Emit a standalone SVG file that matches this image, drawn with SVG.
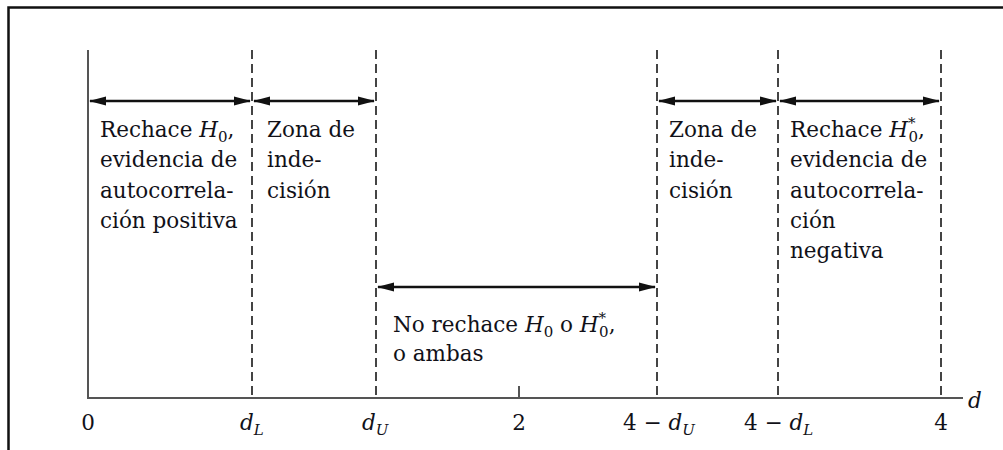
<svg xmlns="http://www.w3.org/2000/svg" width="1003" height="450" viewBox="0 0 1003 450">
<style>
.t{font-family:"DejaVu Serif","Liberation Serif",serif;font-size:21.5px;fill:#111118}
.ax{font-family:"DejaVu Serif","Liberation Serif",serif;font-size:21.5px;fill:#111118}
.it{font-style:italic}
.sub{font-size:15px}
.dash{stroke:#444;stroke-width:2;stroke-dasharray:9,5;fill:none}
.solid{stroke:#555;stroke-width:2;fill:none}
.arr{stroke:#111;stroke-width:2.5;marker-start:url(#ah);marker-end:url(#ah)}
</style>
<defs>
<marker id="ah" markerUnits="userSpaceOnUse" markerWidth="18" markerHeight="12" refX="16" refY="5" orient="auto-start-reverse" viewBox="0 0 18 10">
<path d="M0,0.5 L17,5 L0,9.5 z" fill="#111"/>
</marker>
</defs>
<rect x="0" y="0" width="1003" height="450" fill="#fff"/>
<rect x="8.5" y="7.5" width="1100" height="500" fill="none" stroke="#111" stroke-width="2.5"/>
<g id="axis">
<line class="solid" x1="88" y1="50" x2="88" y2="398"/>
<line class="solid" x1="87" y1="398" x2="963" y2="398"/>
<line class="solid" x1="519" y1="386" x2="519" y2="398"/>
<line class="dash" x1="252" y1="50" x2="252" y2="398"/>
<line class="dash" x1="376" y1="50" x2="376" y2="398"/>
<line class="dash" x1="657" y1="50" x2="657" y2="398"/>
<line class="dash" x1="778" y1="50" x2="778" y2="398"/>
<line class="dash" x1="941" y1="50" x2="941" y2="398"/>
</g>
<g id="tick-labels" class="ax">
<text x="88" y="430" text-anchor="middle">0</text>
<text x="240" y="430"><tspan class="it">d</tspan><tspan class="sub it" dy="5">L</tspan></text>
<text x="362" y="430"><tspan class="it">d</tspan><tspan class="sub it" dy="5">U</tspan></text>
<text x="519" y="430" text-anchor="middle">2</text>
<text x="623" y="430">4 − <tspan class="it">d</tspan><tspan class="sub it" dy="5">U</tspan></text>
<text x="744" y="430">4 − <tspan class="it">d</tspan><tspan class="sub it" dy="5">L</tspan></text>
<text x="941" y="430" text-anchor="middle">4</text>
<text x="968" y="408" class="it">d</text>
</g>
<g id="connectors">
<line class="arr" x1="90" y1="101" x2="250" y2="101"/>
<line class="arr" x1="254" y1="101" x2="374" y2="101"/>
<line class="arr" x1="659" y1="101" x2="776" y2="101"/>
<line class="arr" x1="780" y1="101" x2="939" y2="101"/>
<line class="arr" x1="378" y1="287" x2="655" y2="287"/>
</g>
<g id="zone-reject-h0" class="t">
<text x="100" y="137">Rechace <tspan class="it">H</tspan><tspan class="sub" dy="5">0</tspan><tspan dy="-5">,</tspan></text>
<text x="100" y="167">evidencia de</text>
<text x="100" y="198">autocorrela-</text>
<text x="100" y="228">ción positiva</text>
</g>
<g id="zone-indecision-left" class="t">
<text x="267" y="137">Zona de</text>
<text x="267" y="167">inde-</text>
<text x="267" y="198">cisión</text>
</g>
<g id="zone-no-reject" class="t">
<text x="393" y="332">No rechace <tspan class="it">H</tspan><tspan class="sub" dy="5">0</tspan><tspan dy="-5"> o </tspan><tspan class="it">H</tspan><tspan class="sub" dy="-9">*</tspan><tspan class="sub" dx="-7" dy="14">0</tspan><tspan dy="-5">,</tspan></text>
<text x="393" y="361">o ambas</text>
</g>
<g id="zone-indecision-right" class="t">
<text x="669" y="137">Zona de</text>
<text x="669" y="167">inde-</text>
<text x="669" y="198">cisión</text>
</g>
<g id="zone-reject-h0star" class="t">
<text x="790" y="137">Rechace <tspan class="it">H</tspan><tspan class="sub" dy="-9">*</tspan><tspan class="sub" dx="-7" dy="14">0</tspan><tspan dy="-5">,</tspan></text>
<text x="790" y="167">evidencia de</text>
<text x="790" y="198">autocorrela-</text>
<text x="790" y="228">ción</text>
<text x="790" y="258">negativa</text>
</g>
</svg>
